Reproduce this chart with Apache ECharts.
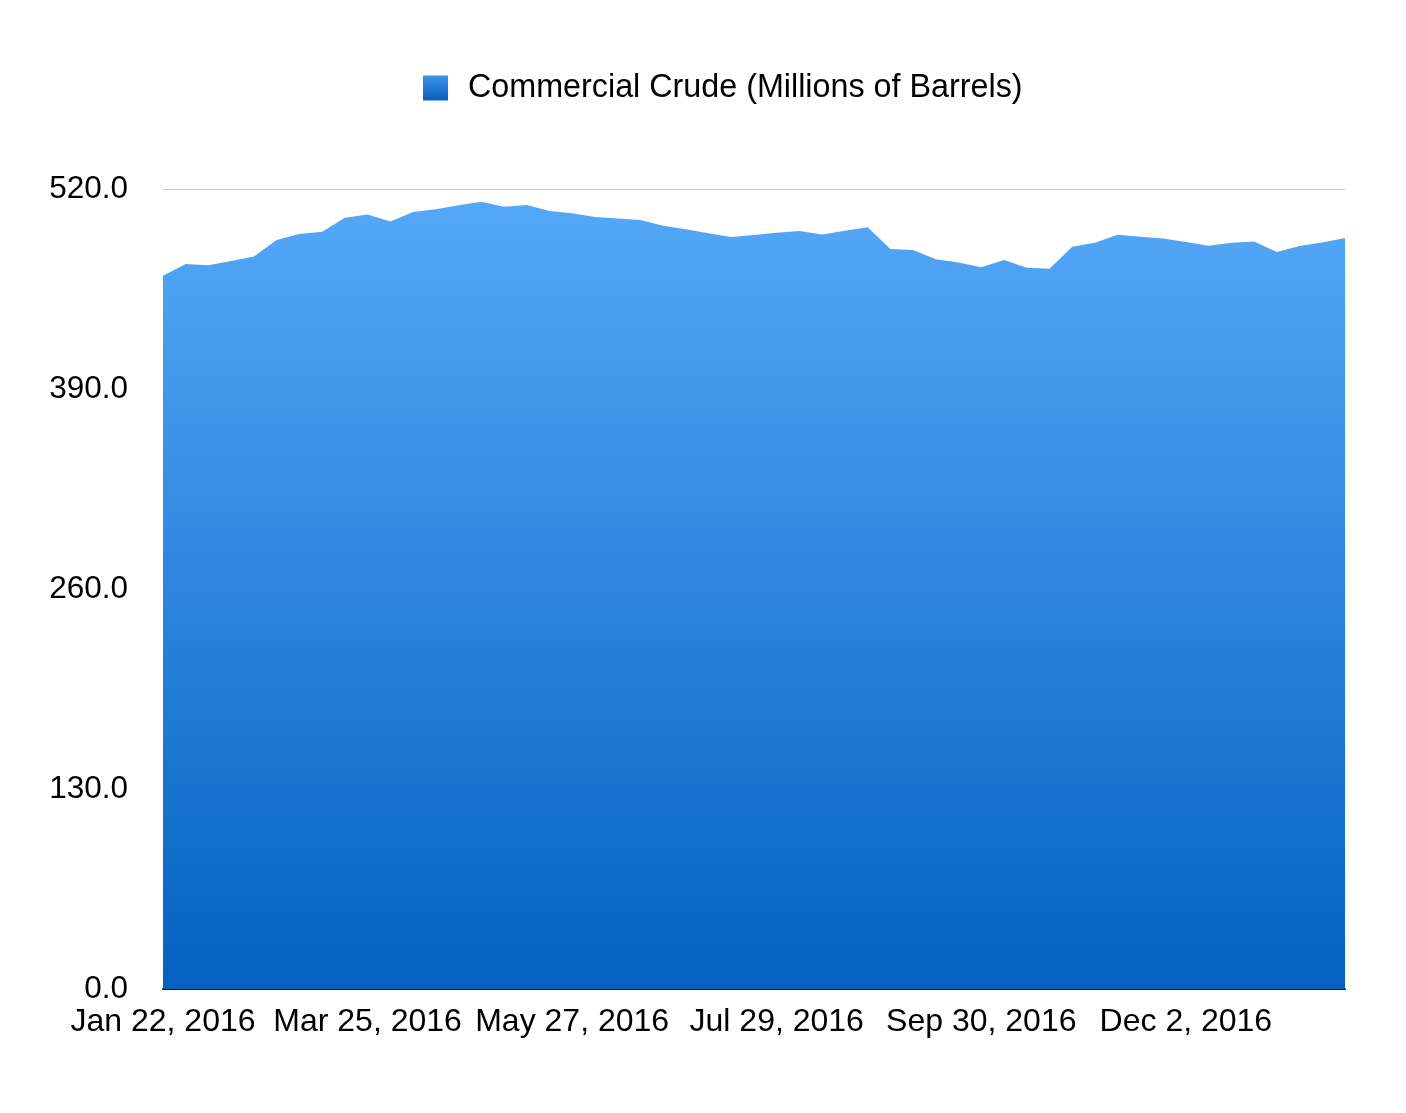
<!DOCTYPE html>
<html>
<head>
<meta charset="utf-8">
<script src="https://cdn.jsdelivr.net/npm/echarts@6/dist/echarts.min.js"></script>
<style>
html,body{margin:0;padding:0;background:#fff;}
#chart{width:1406px;height:1113px;}
</style>
</head>
<body>
<div id="chart"></div>
<script>
const seriesName = 'Commercial Crude (Millions of Barrels)';
const categories = [
  'Jan 22, 2016','Jan 29, 2016','Feb 5, 2016','Feb 12, 2016','Feb 19, 2016','Feb 26, 2016',
  'Mar 4, 2016','Mar 11, 2016','Mar 18, 2016','Mar 25, 2016','Apr 1, 2016','Apr 8, 2016',
  'Apr 15, 2016','Apr 22, 2016','Apr 29, 2016','May 6, 2016','May 13, 2016','May 20, 2016',
  'May 27, 2016','Jun 3, 2016','Jun 10, 2016','Jun 17, 2016','Jun 24, 2016','Jul 1, 2016',
  'Jul 8, 2016','Jul 15, 2016','Jul 22, 2016','Jul 29, 2016','Aug 5, 2016','Aug 12, 2016',
  'Aug 19, 2016','Aug 26, 2016','Sep 2, 2016','Sep 9, 2016','Sep 16, 2016','Sep 23, 2016',
  'Sep 30, 2016','Oct 7, 2016','Oct 14, 2016','Oct 21, 2016','Oct 28, 2016','Nov 4, 2016',
  'Nov 11, 2016','Nov 18, 2016','Nov 25, 2016','Dec 2, 2016','Dec 9, 2016','Dec 16, 2016',
  'Dec 23, 2016','Dec 30, 2016','Jan 6, 2017','Jan 13, 2017','Jan 20, 2017'
];
const crudeValues = [
  463.6, 471.2, 470.4, 473.2, 476.2, 486.8, 490.7, 492.2, 501.3, 503.5,
  498.8, 505.0, 506.8, 509.4, 511.7, 508.5, 509.6, 505.7, 504.2, 501.8,
  500.9, 499.8, 496.1, 493.8, 491.2, 488.8, 490.1, 491.6, 492.7, 490.5,
  492.9, 495.1, 481.0, 480.3, 474.3, 472.3, 469.1, 473.8, 468.8, 468.2,
  482.5, 485.1, 490.3, 489.0, 487.9, 485.5, 483.1, 485.1, 485.8, 479.0,
  482.9, 485.3, 488.1
];
const yMin = 0, yMax = 520, yStep = 130;

const font = '"Liberation Sans", Arial, Helvetica, sans-serif';
const areaGrad = new echarts.graphic.LinearGradient(0, 0, 0, 1, [
  {offset: 0, color: '#55a8f7'},
  {offset: 1, color: '#0461c0'}
]);
const iconGrad = new echarts.graphic.LinearGradient(0, 0, 0, 1, [
  {offset: 0, color: '#3f95ea'},
  {offset: 1, color: '#0a5fbf'}
]);

const chart = echarts.init(document.getElementById('chart'), null, {renderer: 'canvas'});
chart.setOption({
  backgroundColor: '#ffffff',
  animation: false,
  legend: {
    left: 418,
    top: 67,
    itemWidth: 25,
    itemHeight: 25,
    data: [{name: seriesName, icon: 'rect', itemStyle: {color: iconGrad}}],
    textStyle: {fontFamily: font, fontSize: 32.3, color: '#000', padding: [0, 0, 0, 15]}
  },
  grid: {left: 163, right: 61, top: 189, bottom: 124, containLabel: false},
  xAxis: {
    type: 'category',
    data: categories,
    boundaryGap: false,
    axisLine: {show: true, lineStyle: {color: '#111', width: 2}},
    axisTick: {show: false},
    splitLine: {show: false},
    axisLabel: {
      interval: 8,
      fontFamily: font,
      fontSize: 32,
      color: '#000',
      margin: 17
    }
  },
  yAxis: {
    type: 'value',
    min: yMin,
    max: yMax,
    interval: yStep,
    axisLine: {show: false},
    axisTick: {show: false},
    splitLine: {show: true, lineStyle: {color: '#c8c8c8', width: 1}},
    axisLabel: {
      fontFamily: font,
      fontSize: 31.5,
      color: '#000',
      margin: 35,
      padding: [4, 0, 0, 0],
      formatter: v => v.toFixed(1)
    }
  },
  series: [{
    name: seriesName,
    type: 'line',
    data: crudeValues,
    showSymbol: false,
    symbol: 'none',
    lineStyle: {width: 0},
    itemStyle: {color: '#3f95ea'},
    areaStyle: {color: areaGrad, opacity: 1}
  }]
});
</script>
</body>
</html>
